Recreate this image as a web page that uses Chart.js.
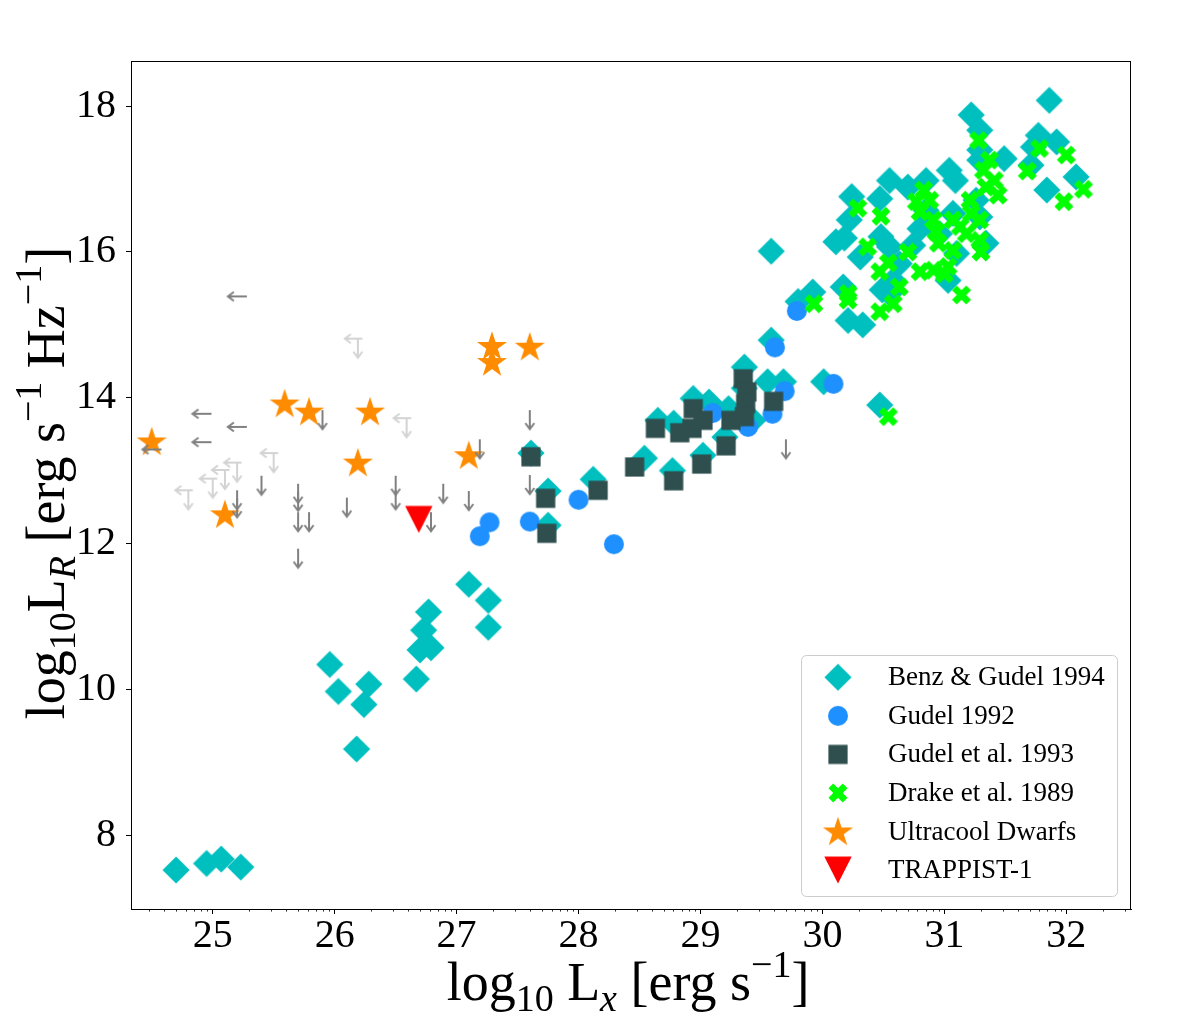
<!DOCTYPE html>
<html>
<head>
<meta charset="utf-8">
<script src="https://cdn.jsdelivr.net/npm/chart.js@4.4.1/dist/chart.umd.min.js"></script>
<style>
  html, body { margin: 0; padding: 0; background: #fff; }
  #wrap { width: 1190px; height: 1021px; }
</style>
</head>
<body>
<div id="wrap"><canvas id="chart" width="1190" height="1021"></canvas></div>
<script>
// values (log10 Lx, log10 LR)
const xTicks = [25, 26, 27, 28, 29, 30, 31, 32];
const yTicks = [8, 10, 12, 14, 16, 18];
const xLimits = [24.33, 32.53];
const yLimits = [6.985, 18.62];

const benzLx = [
  24.70, 24.95, 25.07, 25.23, 26.18, 25.96, 26.03, 26.28, 26.24, 26.67, 26.77, 26.73, 26.70, 26.79, 27.10, 27.26, 27.26,
  27.61, 27.75, 27.75, 28.12, 28.54, 28.65, 28.77, 28.78, 28.94, 29.02, 29.07, 29.20, 29.23, 29.36, 29.36, 29.43, 29.55, 29.68, 29.58, 30.01, 29.58, 29.80, 29.92, 30.21, 30.33, 30.17, 30.47,
  31.86, 31.22, 31.29, 31.77, 31.92, 31.73, 31.49, 31.29, 31.29, 32.08, 31.84, 31.71, 31.04, 31.09, 30.85, 30.55, 30.70, 30.47, 30.24, 30.22,
  30.18, 30.48, 30.31, 30.55, 30.80, 30.74, 30.96, 31.07, 31.10, 31.34, 31.03, 31.26, 31.29, 30.58, 30.55, 30.49, 30.63, 30.85, 30.11
];
const benzLr = [
  7.52, 7.61, 7.67, 7.56, 9.18, 10.34, 9.97, 10.07, 9.79, 10.14, 11.06, 10.81, 10.54, 10.57, 11.44, 11.22, 10.85,
  13.24, 12.72, 12.25, 12.88, 13.17, 13.69, 13.00, 13.65, 13.99, 13.21, 13.94, 13.46, 13.85, 14.42, 14.13, 13.69, 14.22, 14.22, 14.79, 14.22, 16.01, 15.32, 15.45, 15.06, 15.00, 15.52, 13.90,
  18.08, 17.88, 17.67, 17.60, 17.51, 17.44, 17.28, 17.26, 17.40, 17.03, 16.85, 17.19, 17.12, 16.98, 16.98, 16.98, 16.89, 16.73, 16.76, 16.44,
  16.19, 16.21, 15.93, 16.07, 16.32, 16.09, 16.25, 16.53, 15.98, 16.12, 15.61, 16.71, 16.48, 15.61, 15.43, 15.48, 15.84, 16.57, 16.14
];

const gudel92Lx = [27.19, 27.27, 27.60, 28.00, 28.29, 29.10, 29.39, 29.59, 29.69, 29.61, 29.79, 30.09];
const gudel92Lr = [12.10, 12.29, 12.30, 12.60, 11.99, 13.79, 13.60, 13.78, 14.09, 14.69, 15.19, 14.19];

const gudel93Lx = [27.61, 27.73, 27.74, 28.16, 28.46, 28.63, 28.78, 28.83, 28.93, 28.94, 29.02, 29.01, 29.21, 29.25, 29.35, 29.38, 29.37, 29.36, 29.60];
const gudel93Lr = [13.19, 12.62, 12.14, 12.73, 13.05, 13.58, 12.86, 13.52, 13.58, 13.85, 13.69, 13.09, 13.34, 13.69, 14.26, 14.08, 13.92, 13.74, 13.95];

const drakeLx = [
  31.28, 31.78, 32.00, 31.68, 32.14, 31.98, 31.37, 31.32, 31.41, 31.44, 31.34, 30.29, 30.48, 30.83, 30.77, 30.88, 30.80, 30.91, 30.93, 30.95,
  31.07, 31.13, 31.21, 31.22, 31.29, 31.18, 31.29, 31.30, 31.07, 31.03, 31.14, 30.91, 30.80, 30.70, 30.37, 30.54, 30.47, 30.63, 30.58, 30.47,
  30.21, 30.21, 29.93, 31.00, 30.54
];
const drakeLr = [
  17.53, 17.42, 17.33, 17.11, 16.86, 16.69, 17.26, 17.12, 16.98, 16.78, 16.89, 16.60, 16.49, 16.85, 16.69, 16.71, 16.55, 16.44, 16.28, 16.12,
  16.44, 16.35, 16.71, 16.53, 16.44, 16.25, 16.16, 16.00, 16.02, 15.80, 15.41, 15.75, 15.73, 16.00, 16.07, 15.85, 15.73, 15.52, 15.29, 15.18,
  15.34, 15.43, 15.29, 15.70, 13.74
];

const ucdLx = [24.50, 25.10, 25.59, 25.79, 26.19, 26.29, 27.10, 27.29, 27.29, 27.60];
const ucdLr = [13.40, 12.40, 13.92, 13.81, 13.11, 13.81, 13.21, 14.71, 14.49, 14.70];

const trappistLx = [26.69];
const trappistLr = [12.33];

// upper limits: radio only (down), x-ray only (left), both (light grey)
const limRLx = [25.90, 25.40, 25.20, 25.20, 25.70, 25.70, 25.70, 25.79, 25.70, 26.10, 26.50, 26.50, 26.89, 26.79, 27.10, 27.19, 27.60, 27.60, 29.70];
const limRLr = [13.83, 12.93, 12.73, 12.62, 12.82, 12.71, 12.43, 12.43, 11.93, 12.63, 12.93, 12.73, 12.82, 12.43, 12.72, 13.43, 13.83, 12.94, 13.43];
const limXLx = [25.28, 24.99, 25.28, 24.99, 24.58];
const limXLr = [15.39, 13.78, 13.60, 13.39, 13.29];
const limBothLx = [26.19, 26.59, 25.50, 24.80, 25.00, 25.10, 25.20];
const limBothLr = [14.81, 13.72, 13.24, 12.73, 12.89, 13.01, 13.11];

const SERIF = '"Liberation Serif", "Times New Roman", serif';

// ---- marker images ----
function marker(w, h, draw) {
  const c = document.createElement('canvas');
  c.width = w; c.height = h;
  const ctx = c.getContext('2d');
  ctx.translate(w / 2, h / 2);
  draw(ctx);
  return c;
}
function poly(ctx, pts, color) {
  ctx.beginPath();
  pts.forEach((p, i) => i ? ctx.lineTo(p[0], p[1]) : ctx.moveTo(p[0], p[1]));
  ctx.closePath();
  ctx.fillStyle = color;
  ctx.fill();
}

const diamond = marker(30, 30, ctx => poly(ctx, [[0, -13.6], [13.6, 0], [0, 13.6], [-13.6, 0]], '#00bfbf'));
const circle = marker(24, 24, ctx => {
  ctx.beginPath(); ctx.arc(0, 0, 10, 0, Math.PI * 2); ctx.fillStyle = '#1e90ff'; ctx.fill();
});
const square = marker(22, 22, ctx => { ctx.fillStyle = '#2f4f4f'; ctx.fillRect(-9.6, -9.6, 19.2, 19.2); });
const cross = marker(24, 24, ctx => {
  const u = 3.36, a = Math.PI / 4;
  const base = [[-1, -3], [1, -3], [1, -1], [3, -1], [3, 1], [1, 1], [1, 3], [-1, 3], [-1, 1], [-3, 1], [-3, -1], [-1, -1]];
  poly(ctx, base.map(([x, y]) => [u * (x * Math.cos(a) - y * Math.sin(a)), u * (x * Math.sin(a) + y * Math.cos(a))]), '#00ff00');
});
const star = marker(36, 36, ctx => {
  const R = 15.8, r = R * 0.382, pts = [];
  for (let i = 0; i < 10; i++) {
    const ang = -Math.PI / 2 + i * Math.PI / 5, rr = i % 2 ? r : R;
    pts.push([rr * Math.cos(ang), rr * Math.sin(ang) + 1]);
  }
  poly(ctx, pts, '#ff8c00');
});
const tri = marker(32, 32, ctx => poly(ctx, [[-13.7, -13.5], [13.7, -13.5], [0, 13.5]], '#ff0000'));

function arrowPath(ctx, x0, y0, x1, y1) {
  const ang = Math.atan2(y1 - y0, x1 - x0), hl = 6, hw = 4.5;
  ctx.beginPath();
  ctx.moveTo(x0, y0); ctx.lineTo(x1, y1);
  const bx = x1 - hl * Math.cos(ang), by = y1 - hl * Math.sin(ang);
  ctx.moveTo(bx - hw * Math.sin(ang), by + hw * Math.cos(ang));
  ctx.lineTo(x1, y1);
  ctx.lineTo(bx + hw * Math.sin(ang), by - hw * Math.cos(ang));
  ctx.stroke();
}
const downArrow = marker(16, 46, ctx => {
  ctx.strokeStyle = '#808080'; ctx.lineWidth = 2; arrowPath(ctx, 0, 0, 0, 19);
});
const leftArrow = marker(46, 16, ctx => {
  ctx.strokeStyle = '#808080'; ctx.lineWidth = 2; arrowPath(ctx, 0, 0, -19, 0);
});
const bothArrow = marker(46, 46, ctx => {
  ctx.strokeStyle = '#d3d3d3'; ctx.lineWidth = 2;
  arrowPath(ctx, 4.5, 0, -13, 0);
  arrowPath(ctx, 0, 0, 0, 19);
});

// ---- datasets ----
const pts = (xs, ys) => xs.map((x, i) => ({ x, y: ys[i] }));
function series(label, xs, ys, img, order) {
  return { label, data: pts(xs, ys), pointStyle: img, pointRadius: 10, pointHoverRadius: 10, order };
}
const datasets = [
  series('Benz & Gudel 1994', benzLx, benzLr, diamond, 8),
  series('Gudel 1992', gudel92Lx, gudel92Lr, circle, 7),
  series('Gudel et al. 1993', gudel93Lx, gudel93Lr, square, 6),
  series('Drake et al. 1989', drakeLx, drakeLr, cross, 5),
  series('Ultracool Dwarfs', ucdLx, ucdLr, star, 4),
  series('TRAPPIST-1', trappistLx, trappistLr, tri, 3),
  series('radio limits', limRLx, limRLr, downArrow, 2),
  series('x-ray limits', limXLx, limXLr, leftArrow, 2),
  series('both limits', limBothLx, limBothLr, bothArrow, 1)
];
const legendCount = 6;

// ---- text with sub/superscripts ----
function fontFor(p, size) {
  return (p[3] ? 'italic ' : '') + Math.round(size * p[1]) + 'px ' + SERIF;
}
function drawRich(ctx, parts, size) {
  let w = 0;
  parts.forEach(p => { ctx.font = fontFor(p, size); w += ctx.measureText(p[0]).width; });
  let x = -w / 2;
  parts.forEach(p => {
    ctx.font = fontFor(p, size);
    ctx.fillText(p[0], x, -p[2] * size);
    x += ctx.measureText(p[0]).width;
  });
}
const xTitle = [['log', 1, 0], ['10', 0.7, -0.2], [' L', 1, 0], ['x', 0.7, -0.2, true], [' [erg s', 1, 0], ['\u22121', 0.7, 0.42], [']', 1, 0]];
const yTitle = [['log', 1, 0], ['10', 0.7, -0.2], ['L', 1, 0], ['R', 0.7, -0.2, true], [' [erg s', 1, 0], ['\u22121', 0.7, 0.42],
  [' Hz', 1, 0], ['\u22121', 0.7, 0.42], [']', 1, 0]];

const decor = {
  id: 'decor',
  afterDraw(chart) {
    const ctx = chart.ctx, a = chart.chartArea, xs = chart.scales.x;
    ctx.save();
    // frame
    ctx.strokeStyle = '#000'; ctx.lineWidth = 1;
    ctx.strokeRect(a.left + 0.5, a.top + 0.5, a.right - a.left - 1, a.bottom - a.top);
    // minor ticks (log decade style)
    ctx.lineWidth = 0.8;
    ctx.beginPath();
    for (let n = 24; n <= 32; n++) {
      for (let k = 2; k <= 9; k++) {
        const v = n + Math.log10(k);
        if (v <= xs.min || v >= xs.max) continue;
        const px = Math.round(xs.getPixelForValue(v)) + 0.5;
        ctx.moveTo(px, a.bottom); ctx.lineTo(px, a.bottom + 2.6);
      }
    }
    ctx.stroke();
    // axis titles
    ctx.fillStyle = '#000'; ctx.textBaseline = 'alphabetic';
    ctx.save();
    ctx.translate((a.left + a.right) / 2 - 3, 1000);
    drawRich(ctx, xTitle, 54);
    ctx.restore();
    ctx.save();
    ctx.translate(64, (a.top + a.bottom) / 2 - 2);
    ctx.rotate(-Math.PI / 2);
    drawRich(ctx, yTitle, 54);
    ctx.restore();
    // legend
    const w = 316, h = 241, lx = a.right - 14 - w, ly = a.bottom - 13 - h;
    ctx.beginPath();
    ctx.roundRect(lx + 0.5, ly + 0.5, w, h, 5);
    ctx.fillStyle = 'rgba(255,255,255,0.8)'; ctx.fill();
    ctx.strokeStyle = '#cccccc'; ctx.lineWidth = 1; ctx.stroke();
    ctx.font = '27px ' + SERIF; ctx.textBaseline = 'middle'; ctx.fillStyle = '#000';
    for (let i = 0; i < legendCount; i++) {
      const d = chart.data.datasets[i], img = d.pointStyle, ry = ly + 22.3 + i * 38.55;
      ctx.drawImage(img, lx + 37 - img.width / 2, ry - img.height / 2);
      ctx.fillText(d.label, lx + 87, ry + 1);
    }
    ctx.restore();
  }
};

const tickFont = { family: SERIF, size: 40 };
new Chart(document.getElementById('chart'), {
  type: 'scatter',
  data: { datasets },
  options: {
    responsive: false,
    animation: false,
    events: [],
    layout: { padding: { top: 61, right: 59, left: 0, bottom: 0 } },
    plugins: { legend: { display: false }, tooltip: { enabled: false } },
    scales: {
      x: {
        min: xLimits[0], max: xLimits[1],
        afterBuildTicks: s => { s.ticks = xTicks.map(v => ({ value: v })); },
        afterFit: s => { s.height = 112; },
        grid: { drawOnChartArea: false, tickLength: 5, color: '#000', tickColor: '#000' },
        border: { color: '#000' },
        ticks: { font: tickFont, color: '#000', padding: -2, maxRotation: 0, autoSkip: false }
      },
      y: {
        min: yLimits[0], max: yLimits[1],
        afterBuildTicks: s => { s.ticks = yTicks.map(v => ({ value: v })); },
        afterFit: s => { s.width = 131; },
        grid: { drawOnChartArea: false, tickLength: 5, color: '#000', tickColor: '#000' },
        border: { color: '#000' },
        ticks: { font: tickFont, color: '#000', padding: 10, autoSkip: false }
      }
    }
  },
  plugins: [decor]
});
</script>
</body>
</html>
